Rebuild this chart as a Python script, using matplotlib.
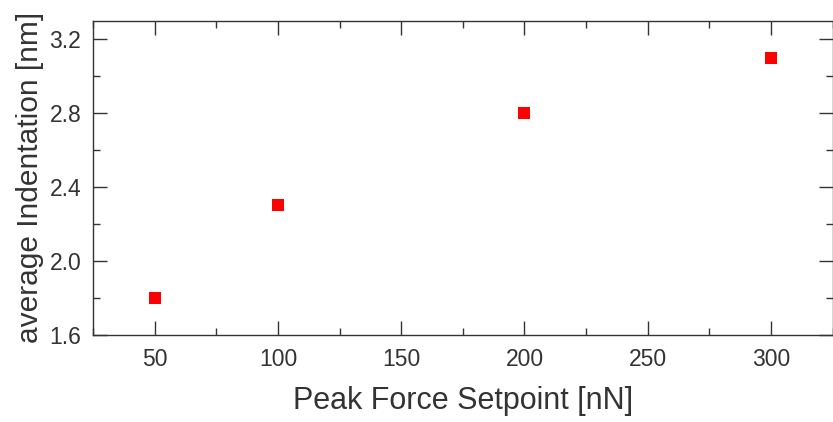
import matplotlib
matplotlib.use('Agg')
import matplotlib.pyplot as plt
from matplotlib.ticker import MultipleLocator

plt.rcParams['font.family'] = ['Liberation Sans', 'DejaVu Sans']

setpoint = [50, 100, 200, 300]
indentation = [1.8, 2.3, 2.8, 3.1]

fig = plt.figure(figsize=(8.33, 4.22), dpi=100)
ax = fig.add_axes([0.1116, 0.2062, 0.8880, 0.7452])

ax.plot(setpoint, indentation, 's', color='#ff0000', markersize=8.7, markeredgewidth=0)

ax.set_xlim(25, 325)
ax.set_ylim(1.6, 3.3)
ax.xaxis.set_major_locator(MultipleLocator(50))
ax.xaxis.set_minor_locator(MultipleLocator(25))
ax.yaxis.set_major_locator(MultipleLocator(0.4))
ax.yaxis.set_minor_locator(MultipleLocator(0.2))
ax.yaxis.set_major_formatter(plt.FormatStrFormatter('%.1f'))

txt = '#333333'
for s in ax.spines.values():
    s.set_color(txt)
    s.set_linewidth(1.0)
ax.tick_params(which='both', direction='in', top=True, right=True, colors=txt,
               labelsize=16.5, width=1.0)
ax.tick_params(which='major', length=10)
ax.tick_params(axis='x', which='major', pad=9.5)
ax.tick_params(axis='y', which='major', pad=8.5)
ax.tick_params(which='minor', length=5)

ax.set_xlabel('Peak Force Setpoint [nN]', fontsize=22, color=txt, labelpad=10.5)
ax.set_ylabel('average Indentation [nm]', fontsize=21.5, color=txt, labelpad=3.5)

fig.savefig('out.png', dpi=100)
